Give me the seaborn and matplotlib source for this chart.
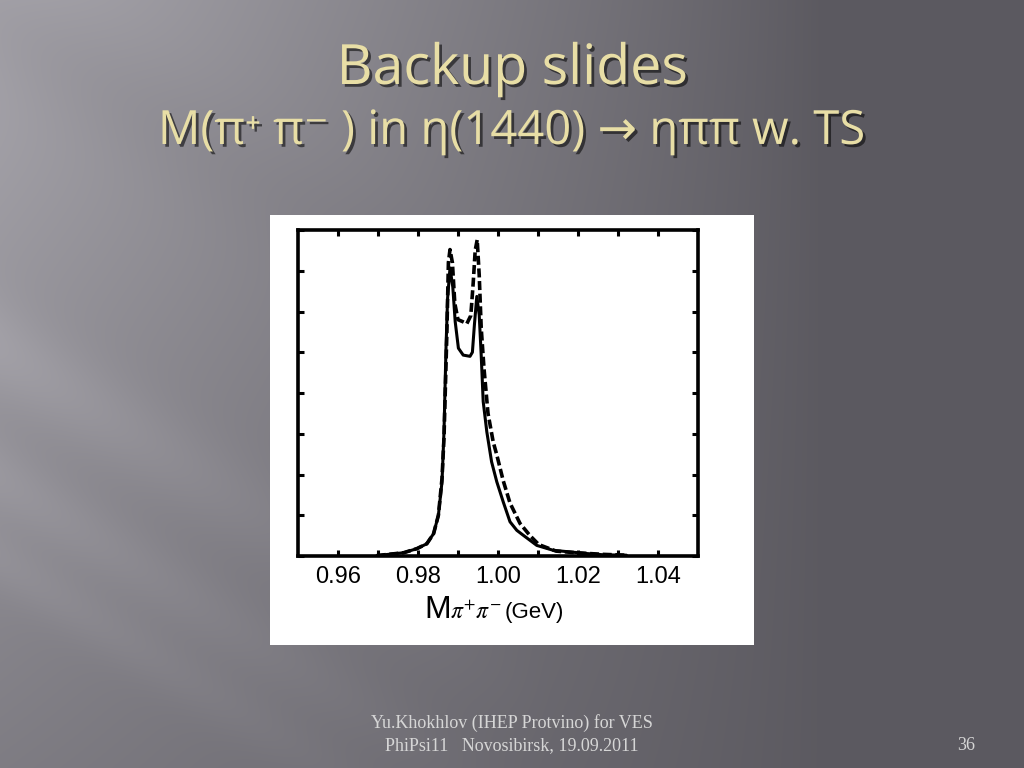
import numpy as np
import matplotlib
matplotlib.use('Agg')
import matplotlib.pyplot as plt
import matplotlib.patheffects as pe
from matplotlib.patches import Rectangle
import seaborn as sns

# curve values (y in units of the 8 tick intervals)
mass_solid = [0.9697, 0.9764, 0.9797, 0.9822, 0.9839, 0.9851, 0.9860, 0.9865, 0.9870, 0.9874,
              0.9880, 0.9887, 0.9893, 0.9901, 0.9913, 0.9930, 0.9936, 0.9941, 0.9947, 0.9953,
              0.9958, 0.9963, 0.9972, 0.9984, 0.9997, 1.0013, 1.0030, 1.0047, 1.0063, 1.0097,
              1.0138, 1.0180, 1.0222, 1.0263, 1.0321]
yield_solid = [0.01, 0.08, 0.18, 0.30, 0.55, 1.00, 1.82, 3.05, 5.10, 6.33,
               7.07, 6.60, 5.75, 5.10, 4.93, 4.90, 5.00, 5.67, 6.37, 5.92,
               4.93, 3.79, 3.05, 2.31, 1.82, 1.33, 0.84, 0.63, 0.51, 0.26,
               0.14, 0.10, 0.06, 0.03, 0.02]

mass_dash = [0.9697, 0.9764, 0.9797, 0.9822, 0.9839, 0.9851, 0.9860, 0.9865, 0.9872, 0.9876,
             0.9880, 0.9886, 0.9892, 0.9900, 0.9912, 0.9922, 0.9932, 0.9938, 0.9943, 0.9948,
             0.9953, 0.9958, 0.9965, 0.9975, 0.9988, 0.9997, 1.0013, 1.0030, 1.0055, 1.0080,
             1.0102, 1.0145, 1.0195, 1.0263, 1.0321]
yield_dash = [0.01, 0.08, 0.18, 0.30, 0.55, 1.00, 1.90, 2.90, 5.40, 7.20,
              7.52, 7.20, 6.20, 5.80, 5.75, 5.70, 5.90, 6.70, 7.50, 7.76,
              6.90, 5.60, 4.60, 3.50, 2.80, 2.48, 1.85, 1.30, 0.80, 0.50,
              0.28, 0.12, 0.08, 0.04, 0.02]

xtick_vals = [0.96, 0.98, 1.00, 1.02, 1.04]
xtick_labels = ['0.96', '0.98', '1.00', '1.02', '1.04']

title1 = 'Backup slides'
title2 = 'M(π\u207a π\u207b ) in η(1440) → ηππ w. TS'
footer1 = 'Yu.Khokhlov (IHEP Protvino) for VES'
footer2 = 'PhiPsi11   Novosibirsk, 19.09.2011'
page_no = '36'

sns.set_theme(style='white')
plt.rcParams['font.family'] = ['Liberation Sans', 'DejaVu Sans']

W, H = 1024, 768
fig = plt.figure(figsize=(W / 100, H / 100), dpi=100)

# slide background: grey, light on the left, with diagonal light streaks
bg = fig.add_axes([0, 0, 1, 1])
px, py = np.meshgrid(np.arange(W), np.arange(H))
fx, fy = px / W, py / H
light = 0.36 + 0.30 * np.clip(1 - fx / 0.8, 0, 1) ** 0.9 * (1 - 0.55 * fy)
for y0, amp, sig in [(350, 0.05, 30), (480, 0.045, 25), (560, 0.035, 20), (20, -0.03, 40)]:
    d = (py - y0 - 0.63 * px) / np.hypot(1, 0.63)
    light += amp * np.exp(-d ** 2 / (2 * sig ** 2)) * np.clip(1 - px / 550, 0, 1)
rgb = np.dstack([light, light - 0.008, light + 0.018])
bg.imshow(np.clip(rgb, 0, 1), extent=[0, 1, 0, 1], aspect='auto', origin='upper')
bg.set_xlim(0, 1)
bg.set_ylim(0, 1)
bg.axis('off')

# titles
shadow = [pe.SimplePatchShadow(offset=(2, -2), shadow_rgbFace='black', alpha=0.55), pe.Normal()]
fig.text(0.5, 1 - 84 / H, title1, ha='center', va='baseline', fontsize=40, color='#e8dea6',
         family=['Open Sans', 'DejaVu Sans'], path_effects=shadow)
fig.text(0.5, 1 - 144 / H, title2, ha='center', va='baseline', fontsize=34, color='#e8dea6',
         family=['Open Sans', 'DejaVu Sans'], path_effects=shadow)

# footer
foot_kw = dict(ha='center', va='center', fontsize=13, color='#d6d6d6', family='Liberation Serif')
fig.text(0.5, 1 - 723 / H, footer1, **foot_kw)
fig.text(0.5, 1 - 746 / H, footer2, **foot_kw)
fig.text(966 / W, 1 - 746 / H, page_no, **foot_kw)

# white inset
bg.add_patch(Rectangle((270 / W, 1 - 645 / H), 484 / W, 430 / H, color='white', lw=0))

ax = fig.add_axes([298 / W, 1 - 556 / H, 400 / W, 326 / H])
ax.set_facecolor('white')
sns.lineplot(x=mass_dash, y=yield_dash, ax=ax, color='black', lw=2.6, linestyle=(0, (2.5, 1.0)),
             sort=False, estimator=None)
sns.lineplot(x=mass_solid, y=yield_solid, ax=ax, color='black', lw=2.2, sort=False, estimator=None)
ax.set_xlim(0.95, 1.05)
ax.set_ylim(0, 8)
ax.set_xticks(xtick_vals)
ax.set_xticklabels(xtick_labels, fontsize=17)
ax.set_xticks([0.97, 0.99, 1.01, 1.03], minor=True)
ax.set_yticks(range(0, 9))
ax.set_yticklabels([])
ax.tick_params(which='both', direction='in', length=4, width=2.2, top=True, right=True,
               bottom=True, left=True, colors='black', pad=7)
for s in ax.spines.values():
    s.set_linewidth(2.6)
    s.set_color('black')
ax.set_xlabel('')
ax.set_ylabel('')

# axis label  M_{pi+pi-} (GeV)
fig.text(424 / W, 1 - 618 / H, 'M', fontsize=23, va='baseline', ha='left', color='black')
fig.text(450 / W, 1 - 619 / H, r'$\pi^{+}\pi^{-}$', fontsize=17, va='baseline', ha='left',
         color='black', math_fontfamily='stix')
fig.text(505 / W, 1 - 618 / H, '(GeV)', fontsize=16, va='baseline', ha='left', color='black')

fig.savefig('out.png', dpi=100)
